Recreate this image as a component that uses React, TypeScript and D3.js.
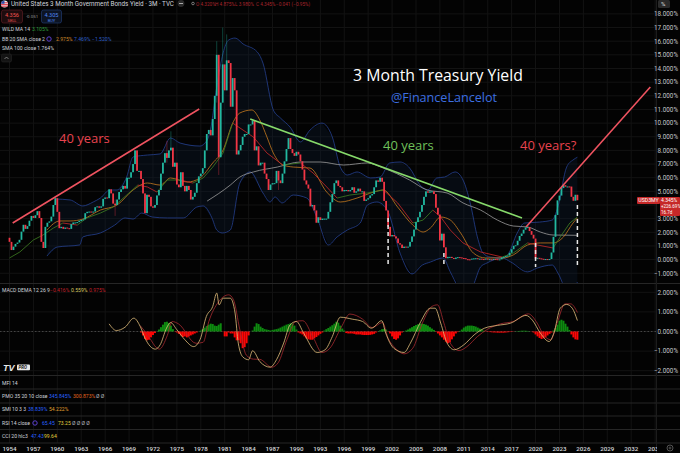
import * as d3 from "d3"

// quarterly closes, first one is 1954 Q1
const closes = [
  1.3, 0.7, 0.95, 1.15, 1.25, 1.45, 2.05, 2.55, 2.25, 2.45, 2.85, 3.2, 3.05, 3.25, 3.55, 3.05,
  1.3, 0.85, 2.4, 2.7, 2.8, 3.15, 4.0, 4.5, 3.5, 2.3, 2.4, 2.25, 2.35, 2.3, 2.25, 2.6,
  2.72, 2.72, 2.75, 2.85, 2.9, 2.95, 3.4, 3.5, 3.52, 3.45, 3.52, 3.84, 3.9, 3.8, 3.9, 4.45,
  4.55, 4.5, 5.15, 4.85, 4.1, 4.0, 4.4, 4.95, 5.15, 5.4, 5.2, 6.0, 6.0, 6.4, 7.0, 8.0,
  6.5, 6.5, 5.9, 4.85, 3.4, 4.75, 4.6, 3.9, 3.8, 4.0, 4.7, 5.1, 6.3, 7.1, 7.8, 7.45,
  8.0, 8.2, 6.8, 7.1, 5.5, 5.3, 6.4, 5.4, 5.0, 5.4, 5.1, 4.4, 4.6, 4.9, 5.6, 6.1,
  6.3, 6.7, 8.0, 9.2, 9.5, 9.1, 10.3, 12.0, 15.0, 7.5, 11.5, 14.3, 12.4, 14.6, 14.4, 11.2,
  13.3, 12.4, 7.7, 8.0, 8.4, 9.0, 9.2, 9.2, 9.9, 9.9, 10.2, 8.0, 8.3, 6.9, 7.1, 7.1,
  6.3, 5.9, 5.1, 5.5, 5.6, 5.6, 6.5, 5.8, 5.6, 6.3, 7.2, 8.1, 8.9, 8.1, 7.8, 7.6,
  7.9, 7.7, 7.2, 6.6, 5.8, 5.5, 5.2, 3.9, 4.0, 3.6, 2.7, 3.1, 2.9, 3.0, 3.0, 3.0,
  3.5, 4.2, 4.8, 5.6, 5.8, 5.4, 5.3, 5.0, 5.1, 5.1, 5.0, 5.1, 5.3, 4.9, 5.0, 5.2,
  5.0, 5.0, 4.3, 4.4, 4.5, 4.7, 4.8, 5.3, 5.8, 5.7, 6.0, 5.7, 4.3, 3.6, 2.4, 1.7,
  1.8, 1.7, 1.55, 1.2, 1.1, 0.85, 0.95, 0.9, 0.95, 1.3, 1.7, 2.2, 2.75, 3.1, 3.5, 4.0,
  4.6, 5.0, 4.9, 5.0, 5.0, 4.8, 3.8, 3.3, 1.4, 1.9, 0.9, 0.1, 0.2, 0.2, 0.12, 0.05,
  0.15, 0.18, 0.16, 0.12, 0.1, 0.03, 0.02, 0.01, 0.07, 0.09, 0.1, 0.05, 0.07, 0.04, 0.02, 0.07,
  0.03, 0.03, 0.02, 0.04, 0.03, 0.01, 0.02, 0.16, 0.2, 0.26, 0.29, 0.5, 0.76, 1.01, 1.05, 1.38,
  1.73, 1.91, 2.19, 2.36, 2.38, 2.09, 1.82, 1.54, 0.06, 0.13, 0.09, 0.06, 0.02, 0.04, 0.03, 0.04,
  0.52, 1.67, 3.27, 4.34, 4.69, 5.24, 5.45, 5.34, 5.36, 5.35, 4.6, 4.31, 4.75, 4.345,
]
const firstYear = 1954

// candles with a visible wick
const wickYears = [1967.25, 1973.75, 1974.25, 1980, 1980.25, 1980.75, 1981.25, 1987.75]
const wickHighs = [4.4, 8.7, 9.4, 16.0, 15.0, 17.0, 16.5, 6.5]
const wickLows = [3.2, 7.1, 8.0, 11.5, 6.2, 11.5, 12.4, 5.1]

const upperYears = [1959.7, 1961.6, 1963.2, 1964.5, 1965.4, 1966.6, 1967.5, 1968.7, 1969.5, 1971.3, 1972.9, 1974.2, 1975.4, 1977.9, 1978.8, 1979.2, 1980, 1980.8, 1981.5, 1982.3, 1983.3, 1985.1, 1985.8, 1987.1, 1988, 1989.2, 1990.5, 1991.7, 1993.2, 1994.5, 1995.5, 1996.4, 1997.6, 1999.3, 2000.5, 2001.7, 2003, 2004.2, 2005.5, 2006.5, 2007.6, 2008.6, 2009.9, 2010.9, 2011.8, 2012.7, 2013.4, 2014.3, 2015.8, 2016.5, 2017.7, 2018.6, 2020.5, 2022.1, 2022.8, 2023.9, 2024.7, 2025.25]
const upperValues = [4.44, 4.37, 3.93, 4.22, 4.51, 5.1, 5.1, 6.05, 7.52, 7.66, 7.74, 8.91, 8.54, 8.32, 8.76, 9.49, 12.64, 15.14, 16.09, 16.23, 15.8, 15.2, 14.4, 10.96, 10.37, 9.71, 8.62, 9.49, 10.0, 8.98, 6.78, 6.2, 6.42, 5.98, 6.05, 7.08, 7.15, 6.71, 5.47, 5.1, 5.98, 6.05, 6.42, 5.83, 4.15, 1.66, 0.48, 0.19, 0.12, 0.34, 1.95, 2.68, 2.75, 2.9, 3.85, 6.78, 7.3, 7.5]

const lowerYears = [1958.7, 1960, 1962.8, 1963.2, 1965.4, 1967.2, 1968.5, 1969.5, 1970.6, 1971.9, 1973.8, 1975.8, 1977.5, 1978.3, 1979.4, 1980, 1980.7, 1981.7, 1982.9, 1984.2, 1985.8, 1986.7, 1987.3, 1988.2, 1989.6, 1991.3, 1992.6, 1994, 1995.1, 1996.4, 1998, 1998.9, 2000.1, 2001.4, 2003, 2004.5, 2005.8, 2006.8, 2008.4, 2009.3, 2011.2, 2012.2, 2013.1, 2013.9, 2015.8, 2016.9, 2019, 2020.2, 2022.1, 2022.8, 2024.3, 2025.25]
const lowerValues = [0.26, 0.92, 1.07, 1.66, 1.95, 2.53, 3.05, 2.97, 3.41, 3.12, 3.05, 3.05, 3.85, 3.93, 3.05, 2.17, 1.95, 2.17, 5.61, 6.42, 4.88, 4.22, 4.59, 4.15, 4.73, 4.51, 3.05, 1.07, 1.66, 2.17, 2.68, 4.0, 4.22, 3.63, 0.48, -1.05, -0.4, -0.18, 0.12, -0.9, -2.6, -1.85, -0.54, -0.25, 0.12, -0.18, -0.9, -0.62, -0.4, -0.98, -2.6, -1.64]

const basisYears = [1958.7, 1960.3, 1961.6, 1963.2, 1965.4, 1967.5, 1969.5, 1971.3, 1972.9, 1974.2, 1976.3, 1977.9, 1979.5, 1980.8, 1982, 1982.9, 1984.4, 1985.4, 1986.3, 1987.1, 1988.3, 1989.6, 1991.7, 1993.8, 1995.5, 1997.6, 1999.7, 2000.9, 2002.7, 2004.6, 2005.9, 2006.8, 2008.1, 2009.3, 2010.6, 2012.2, 2013.7, 2015.9, 2017.2, 2019, 2020.6, 2022.2, 2023.5, 2024.7, 2025.25]
const basisValues = [2.17, 2.83, 2.83, 2.97, 3.63, 4.0, 5.1, 5.61, 5.46, 5.98, 5.68, 5.98, 7.08, 8.03, 10.0, 10.74, 10.96, 10.23, 8.98, 7.81, 6.93, 6.78, 6.71, 4.95, 4.22, 4.51, 4.95, 5.1, 3.85, 2.53, 2.02, 2.31, 3.12, 2.9, 1.95, 0.48, 0.12, 0.12, 0.34, 1.07, 1.22, 1.22, 1.66, 2.68, 3.05]

const wildYears = [1954, 1955.3, 1957, 1958.2, 1959.5, 1960.7, 1962.5, 1963.7, 1965.4, 1967, 1968.7, 1970.1, 1971.3, 1972.5, 1973.8, 1975.4, 1977, 1978.3, 1979.5, 1980.8, 1982, 1983.3, 1984.6, 1986.3, 1988.3, 1990.5, 1992.1, 1993.8, 1995.1, 1996.7, 1998.9, 2000.9, 2002.7, 2004.6, 2005.9, 2007.1, 2008.1, 2009.3, 2010.9, 2013.1, 2015.8, 2017.2, 2019, 2020.2, 2022.2, 2023.1, 2024.3, 2025.25]
const wildValues = [0.12, 0.56, 1.44, 1.8, 2.31, 2.68, 2.53, 3.05, 3.41, 3.85, 4.73, 5.46, 5.32, 4.95, 5.83, 5.83, 5.61, 5.98, 6.78, 7.81, 10.0, 9.49, 8.98, 7.81, 6.93, 7.08, 6.34, 5.32, 4.51, 4.73, 4.88, 5.1, 4.15, 2.68, 2.9, 3.63, 3.12, 2.17, 1.22, 0.56, 0.19, 0.48, 1.22, 1.07, 0.85, 1.66, 2.68, 3.12]

const smaYears = [1978.8, 1981.7, 1982.9, 1984.6, 1987.6, 1990.5, 1993, 1995.9, 1998.9, 2000.9, 2004.2, 2006.4, 2008.9, 2010.9, 2013.1, 2015.2, 2017.2, 2019, 2020.6, 2022.2, 2025.25]
const smaValues = [4.29, 5.46, 6.05, 6.42, 6.78, 7.15, 7.15, 6.93, 7.08, 6.71, 5.83, 5.1, 4.88, 4.15, 3.63, 2.9, 2.46, 2.39, 2.02, 1.8, 1.78]

const macdYears = [1966.5, 1967.4, 1968.5, 1969.6, 1970.4, 1971, 1972.3, 1972.9, 1973.7, 1974.2, 1975, 1976, 1977.1, 1977.9, 1978.7, 1979.5, 1980, 1980.3, 1980.8, 1981.7, 1982.3, 1982.7, 1983.3, 1984, 1984.5, 1985.4, 1986.7, 1987.5, 1988.4, 1989.2, 1990, 1990.9, 1992.6, 1993.6, 1994.5, 1995.5, 1997, 1998.3, 1999.4, 2000.7, 2001.2, 2002.2, 2003.5, 2004.3, 2005.6, 2006.8, 2007.4, 2008.1, 2008.9, 2009.8, 2011, 2012.3, 2013.6, 2015.2, 2016.9, 2018.8, 2019.6, 2020.6, 2021.7, 2022.3, 2023.1, 2023.9, 2024.6, 2025.25]
const macdValues = [0.39, 0.05, 0.22, 0.68, 0.26, -0.34, -0.9, -0.68, 0.17, 0.46, 0.09, -0.42, -0.77, -0.42, 0.77, 1.28, 1.96, 1.36, 1.7, 1.7, 0.94, -0.59, -1.31, -1.44, -0.98, -1.53, -1.82, -1.44, -0.59, 0.34, 0.51, -0.08, -1.07, -0.93, -0.26, 0.73, 0.63, 0.51, 0.17, 0.55, -0.08, -0.85, -1.07, -0.59, 0.51, 1.19, 1.19, 0.43, -0.59, -0.93, -0.68, -0.17, 0.17, 0.31, 0.43, 0.82, 0.58, -0.08, -0.51, -0.08, 1.19, 1.38, 1.19, 0.56]

const signalYears = [1970.4, 1971.2, 1972.8, 1973.8, 1974.4, 1975.2, 1977.4, 1978.3, 1979, 1980.2, 1981.5, 1982.1, 1982.9, 1983.7, 1984.6, 1985.4, 1986.9, 1987.7, 1988.8, 1989.9, 1990.8, 1992.1, 1993.2, 1994.2, 1995.6, 1996.7, 1998.3, 1999.5, 2000.8, 2001.5, 2002.4, 2003.5, 2004.6, 2005.8, 2007, 2007.7, 2008.5, 2009.3, 2010.4, 2011.4, 2012.7, 2014, 2015.6, 2017.2, 2019.1, 2020.2, 2021, 2021.9, 2022.7, 2023.7, 2024.4, 2025.25]
const signalValues = [0.3, -0.1, -0.9, -0.2, 0.51, 0.39, -0.6, -0.55, 0.5, 1.5, 1.87, 1.62, 0.09, -1.2, -1.41, -1.42, -1.82, -1.6, -0.42, 0.51, 0.55, -0.3, -1.07, -0.85, 0.2, 0.89, 0.63, 0.2, 0.46, -0.34, -0.85, -1.14, -0.85, 0.43, 1.28, 1.36, 0.43, -0.59, -0.97, -0.77, -0.26, 0.12, 0.39, 0.51, 0.9, 0.43, -0.17, -0.42, 0.43, 1.41, 1.41, 0.97]

// MACD histogram, one bar a quarter, last one is 2025 Q2
const histValues = [
  -0.05, -0.2, -0.38, -0.45, -0.42, -0.3, -0.18, -0.08, 0.01, 0.1, 0.22, 0.35, 0.48, 0.5, 0.42, 0.3, 0.12, -0.01,
  -0.05, -0.12, -0.2, -0.28, -0.25, -0.3, -0.25, -0.2, -0.15, -0.1, -0.05, 0.01, 0.05, 0.12, 0.2, 0.28, 0.35,
  0.4, 0.38, 0.3, 0.28, 0.35, 0.42, -0.01, -0.25, -0.25, -0.05, -0.1, -0.1, -0.3, -0.45, -0.45, -0.6,
  -0.85, -0.8, -0.6, -0.2, 0, 0.05, 0.25, 0.42, 0.38, 0.25, 0.18, 0.12, 0.1, 0.08, 0.05, 0.08,
  0.1, 0.12, 0.15, 0.2, 0.25, 0.3, 0.35, 0.38, 0.42, 0.4, 0.3, 0.1, -0.05, -0.1, -0.15, -0.25,
  -0.35, -0.4, -0.42, -0.42, -0.35, -0.28, -0.2, -0.12, -0.05, 0.05, 0.12, 0.18, 0.25, 0.32, 0.4, 0.5,
  0.45, 0.3, 0.15, 0.05, -0.08, -0.1, -0.1, -0.1, -0.12, -0.15, -0.15, -0.15, -0.17, -0.18, -0.18, -0.18,
  -0.17, -0.15, -0.12, -0.05, 0.01, 0.06, 0.12, 0.13, 0.1, -0.01, -0.1, -0.25, -0.38, -0.42, -0.35, -0.2,
  -0.05, 0.01, 0.05, 0.1, 0.16, 0.22, 0.28, 0.33, 0.37, 0.4, 0.4, 0.38, 0.35, 0.3, 0.22, 0.15,
  0.08, -0.02, -0.1, -0.2, -0.3, -0.42, -0.52, -0.6, -0.55, -0.4, -0.25, -0.1, -0.03, 0.03, 0.1, 0.2, 0.26,
  0.3, 0.3, 0.3, 0.28, 0.25, 0.2, 0.15, 0.1, 0.04, -0.01, -0.02, -0.03, -0.04, -0.05, -0.05, -0.06, -0.06,
  -0.06, -0.06, -0.05, -0.04, -0.03, -0.02, -0.01, 0.01, 0.02, 0.03, 0.04, 0.04, 0.04, 0.03, 0.01, -0.01,
  -0.05, -0.15, -0.25, -0.33, -0.38, -0.35, -0.3, -0.2, -0.12, -0.05, 0.05, 0.18, 0.35, 0.55, 0.6, 0.55,
  0.4, 0.25, 0.08, -0.15, -0.3, -0.4, -0.42,
]

// drawn on the chart by hand: [year, yield] at both ends
const redTrend = [[1954.4, 2.68], [1977.8, 11.03]]
const greenTrend = [[1984.2, 10.3], [2018.3, 3.05]]
const redTrend2 = [[2018.8, 2.39], [2034.4, 12.64]]
const dropYears = [2001.5, 2008.5, 2020, 2025.25]
const dropTops = [3.05, 0.48, 1.22, 4.0]
const dropBottom = -0.55

// 4% sits behind the last price tag
const priceTicks = d3.range(-1, 19)
const priceLabels = priceTicks.filter((t) => t !== 4)
const macdTicks = [-2, -1, 0, 1, 2]
const yearTicks = d3.range(1954, 2036, 3)

const paneLabels = ["MFI 14", "PMO 35 20 10 close", "SMI 10 3 3", "RSI 14 close", "CCI 20 hlc3"]
const paneValues = [
  [],
  ["345.845%", "300.873%", "Ø Ø"],
  ["38.839%", "54.222%"],
  ["65.45", "73.25", "Ø Ø Ø Ø"],
  ["47.43", "99.64"],
]
const paneColours = [
  [],
  ["#2962ff", "#e0651f", "#b2b5be"],
  ["#2962ff", "#e0a030"],
  ["#2962ff", "#e0d040", "#b2b5be"],
  ["#2962ff", "#e0d040"],
]
const paneValueX = [[], [49, 73, 96], [28, 49], [42, 58, 72], [31, 44]]
const paneBaselines = [385, 398, 411, 425, 438]

const W = 680
const H = 453
const FONT = "Roboto, 'Noto Sans', sans-serif"
const TEAL = "#22b8a0"
const RED = "#f23645"
const LEGEND = 5.1

const x = d3.scaleLinear().domain([1954, 2005]).range([9.5, 416])
const y = d3.scaleLinear().domain([0, 18]).range([259.6, 13.9])
const my = d3.scaleLinear().domain([-2, 2]).range([370.7, 292.3])

const curve = (xs: number[], vs: number[], ys = y) =>
  d3
    .line<number>()
    .x((d) => x(d))
    .y((_, i) => ys(vs[i]))
    .curve(d3.curveMonotoneX)(xs) || ""

const rawLine = d3.line().x((d) => x(d[0])).y((d) => y(d[1]))

export default function App() {
  const band =
    rawLine([
      ...upperYears.map((t, i) => [t, upperValues[i]] as [number, number]),
      ...lowerYears.map((t, i) => [t, lowerValues[i]] as [number, number]).reverse(),
    ]) + "Z"

  const histStart = 2025.25 - (histValues.length - 1) / 4

  return (
    <svg
      width={W}
      height={H}
      style={{ position: "absolute", left: 0, top: 0, background: "#030303", fontFamily: FONT }}
    >
      <defs>
        <clipPath id="pane">
          <rect x={0} y={0} width={656} height={283} />
        </clipPath>
        <clipPath id="timeClip">
          <rect x={0} y={440} width={657} height={13} />
        </clipPath>
      </defs>

      {/* grid */}
      {yearTicks.map((t) => (
        <line key={t} x1={x(t)} x2={x(t)} y1={0} y2={443} stroke="#131313" />
      ))}
      {priceTicks.map((t) => (
        <line key={t} x1={0} x2={656} y1={y(t)} y2={y(t)} stroke="#131313" />
      ))}
      {macdTicks.map((t) => (
        <line key={t} x1={0} x2={656} y1={my(t)} y2={my(t)} stroke="#131313" />
      ))}
      <line x1={0} x2={656} y1={my(0)} y2={my(0)} stroke="#444" strokeDasharray="1.5 2" />

      {/* pane borders */}
      {[283.5, 375.5, 389, 403, 416, 429.5, 443].map((p) => (
        <line key={p} x1={0} x2={W} y1={p} y2={p} stroke="#262626" />
      ))}
      <line x1={656.5} x2={656.5} y1={0} y2={H} stroke="#1c1c1c" />

      {/* price pane */}
      <g clipPath="url(#pane)">
        <path d={band} fill="#0f2238" fillOpacity={0.28} />
        <path d={curve(upperYears, upperValues)} fill="none" stroke="#24408f" strokeWidth={0.8} />
        <path d={curve(lowerYears, lowerValues)} fill="none" stroke="#24408f" strokeWidth={0.8} />
        <path d={curve(smaYears, smaValues)} fill="none" stroke="#9c9c9c" strokeWidth={0.8} />
        <path d={curve(basisYears, basisValues)} fill="none" stroke="#c77a1e" strokeWidth={0.8} />
        {wildYears.slice(1).map((t, i) => (
          <line
            key={t}
            x1={x(wildYears[i])}
            x2={x(t)}
            y1={y(wildValues[i])}
            y2={y(wildValues[i + 1])}
            stroke={wildValues[i + 1] >= wildValues[i] ? "#3f7f22" : "#cc2a2a"}
            strokeWidth={0.8}
          />
        ))}

        {closes.map((c, i) => {
          const t = firstYear + i / 4
          const open = i === 0 ? 1.6 : closes[i - 1]
          const colour = c >= open ? TEAL : RED
          const k = wickYears.indexOf(t)
          return (
            <g key={i}>
              {k >= 0 && (
                <line
                  x1={x(t)}
                  x2={x(t)}
                  y1={y(wickHighs[k])}
                  y2={y(wickLows[k])}
                  stroke={colour}
                  strokeOpacity={0.6}
                  strokeWidth={0.6}
                />
              )}
              <rect
                x={x(t) - 0.9}
                width={1.8}
                y={y(Math.max(open, c))}
                height={Math.max(Math.abs(y(open) - y(c)), 1)}
                fill={colour}
              />
            </g>
          )
        })}

        {/* hand drawn lines */}
        <path d={rawLine(redTrend as [number, number][]) || ""} stroke="#ef5360" strokeWidth={1.6} fill="none" />
        <path d={rawLine(greenTrend as [number, number][]) || ""} stroke="#86d96a" strokeWidth={1.6} fill="none" />
        <path d={rawLine(redTrend2 as [number, number][]) || ""} stroke="#ef5360" strokeWidth={1.6} fill="none" />
        {dropYears.map((t, i) => (
          <line
            key={t}
            x1={x(t)}
            x2={x(t)}
            y1={y(dropTops[i])}
            y2={y(dropBottom)}
            stroke="#e8e8e8"
            strokeWidth={1.5}
            strokeDasharray="4 3"
          />
        ))}
      </g>

      {/* MACD pane */}
      {histValues.map((v, i) => {
        const t = histStart + i / 4
        return (
          <rect
            key={i}
            x={x(t) - 1}
            width={2}
            y={my(Math.max(v, 0))}
            height={Math.abs(my(v) - my(0))}
            fill={v >= 0 ? "#0e8a10" : "#fb0606"}
          />
        )
      })}
      <path d={curve(signalYears, signalValues, my)} fill="none" stroke="#a62a30" strokeWidth={0.8} />
      <path d={curve(macdYears, macdValues, my)} fill="none" stroke="#e3bf7c" strokeWidth={0.8} />

      {/* annotation text */}
      <text x={438} y={81} fontFamily="'Open Sans'" fontSize={15.8} fontWeight={500} fill="#fff" textAnchor="middle">
        3 Month Treasury Yield
      </text>
      <text x={444} y={102} fontFamily="'Open Sans'" fontSize={12.6} fill="#3d6fe0" textAnchor="middle">
        @FinanceLancelot
      </text>
      <text x={59} y={143} fontFamily="'Open Sans'" fontSize={13} fill="#e8434f">
        40 years
      </text>
      <text x={383} y={150} fontFamily="'Open Sans'" fontSize={13} fill="#6fc05a">
        40 years
      </text>
      <text x={520} y={150} fontFamily="'Open Sans'" fontSize={13} fill="#e8434f">
        40 years?
      </text>

      {/* price axis */}
      {priceLabels.map((t) => (
        <text key={t} x={678} y={y(t) + 2.3} fontSize={6.3} fill="#c4c6cc" textAnchor="end">
          {t < 0 ? `−${Math.abs(t).toFixed(3)}%` : `${t.toFixed(3)}%`}
        </text>
      ))}
      {macdTicks.map((t) => (
        <text key={t} x={678} y={my(t) + 2.3} fontSize={6.3} fill="#c4c6cc" textAnchor="end">
          {t < 0 ? `−${Math.abs(t).toFixed(3)}%` : `${t.toFixed(3)}%`}
        </text>
      ))}
      <rect x={637} y={197} width={23} height={7} fill="#c62828" rx={1} />
      <text x={648.5} y={202.4} fontSize={5.2} fill="#fff" textAnchor="middle">
        USD3MY
      </text>
      <rect x={660} y={197} width={20} height={19} fill="#c62828" rx={1} />
      <text x={661} y={202.2} fontSize={5} fill="#fff">
        4.345%
      </text>
      <text x={661} y={208} fontSize={4.5} fill="#fff">
        +226.69%
      </text>
      <text x={661} y={213.8} fontSize={4.5} fill="#fff">
        16.7d
      </text>
      <rect x={658} y={0} width={12} height={8} rx={1.5} fill="#2a2a2a" />
      <text x={661} y={6} fontSize={6} fill="#ddd">
        %
      </text>

      {/* time axis */}
      <g clipPath="url(#timeClip)">
        {yearTicks.map((t) => (
          <text key={t} x={x(t)} y={450.5} fontSize={6.2} fontWeight={500} fill="#d6d8dd" textAnchor="middle">
            {t}
          </text>
        ))}
      </g>
      <circle cx={670} cy={448} r={3} fill="none" stroke="#888" strokeWidth={0.6} />
      <circle cx={670} cy={448} r={1} fill="none" stroke="#888" strokeWidth={0.5} />

      {/* header */}
      <circle cx={4.5} cy={4} r={3.6} fill="#eee" />
      <path d="M1 2.8h7M1 4.6h7M1.3 6.2h6.4" stroke="#d23" strokeWidth={0.9} />
      <path d="M4.5 0.4a3.6 3.6 0 0 0 -3.5 3.4h3.5z" fill="#2b4fa8" />
      <text x={11} y={6} fontSize={6.3} fill="#d1d4dc">
        United States 3 Month Government Bonds Yield · 3M · TVC
      </text>
      <circle cx={181} cy={3.5} r={3.4} fill="#2a2a2a" />
      <path d="M179 3.5h4" stroke="#ccc" strokeWidth={0.8} />
      <circle cx={193} cy={3.5} r={1.3} fill="none" stroke="#bbb" strokeWidth={0.6} />
      <text x={196} y={5.6} fontSize={4.7} fill="#a8242c">
        O 4.320%
      </text>
      <text x={215} y={5.6} fontSize={4.7} fill="#a8242c">
        H 4.875%
      </text>
      <text x={235} y={5.6} fontSize={4.7} fill="#a8242c">
        L 3.980%
      </text>
      <text x={256} y={5.6} fontSize={4.7} fill="#a8242c">
        C 4.345%
      </text>
      <text x={276} y={5.6} fontSize={4.7} fill="#a8242c">
        −0.041 (−0.95%)
      </text>

      <rect x={1.5} y={10} width={21} height={13} rx={2} fill="#1e0c0e" stroke="#5a1d22" strokeWidth={0.7} />
      <text x={12} y={16.5} fontSize={5.6} fill="#ef5350" textAnchor="middle">
        4.356
      </text>
      <text x={12} y={21.5} fontSize={4} fill="#ef5350" textAnchor="middle">
        SELL
      </text>
      <text x={32} y={18} fontSize={4.4} fill="#9a9a9a" textAnchor="middle">
        -0.051
      </text>
      <rect x={41.5} y={10} width={20} height={13} rx={2} fill="#0c1424" stroke="#1f3a6e" strokeWidth={0.7} />
      <text x={51.5} y={16.5} fontSize={5.6} fill="#4f84f0" textAnchor="middle">
        4.305
      </text>
      <text x={51.5} y={21.5} fontSize={4} fill="#4f84f0" textAnchor="middle">
        BUY
      </text>

      <text x={2} y={31} fontSize={LEGEND} fill="#d1d4dc">
        WILD MA 14
      </text>
      <text x={32} y={31} fontSize={LEGEND} fill="#2e9e3a">
        3.105%
      </text>
      <text x={2} y={41} fontSize={LEGEND} fill="#d1d4dc">
        BB 20 SMA close 2
      </text>
      <circle cx={49} cy={39} r={2.2} fill="none" stroke="#5b3fd0" strokeWidth={1} />
      <text x={56} y={41} fontSize={LEGEND} fill="#d08a2a">
        2.975%
      </text>
      <text x={74} y={41} fontSize={LEGEND} fill="#2d5fc8">
        7.469%
      </text>
      <text x={92} y={41} fontSize={LEGEND} fill="#2d5fc8">
        −1.520%
      </text>
      <text x={2} y={50} fontSize={LEGEND} fill="#d1d4dc">
        SMA 100 close 1.764%
      </text>
      <rect x={1.5} y={54} width={10} height={8} rx={1.5} fill="#141414" stroke="#2a2a2a" strokeWidth={0.5} />
      <path d="M4.5 59l2-2 2 2" fill="none" stroke="#bbb" strokeWidth={0.6} />

      <text x={2} y={292} fontSize={LEGEND} fill="#d1d4dc">
        MACD DEMA 12 26 9
      </text>
      <text x={50} y={292} fontSize={LEGEND} fill="#c1212b">
        −0.416%
      </text>
      <text x={71} y={292} fontSize={LEGEND} fill="#d9c860">
        0.559%
      </text>
      <text x={89} y={292} fontSize={LEGEND} fill="#c1212b">
        0.975%
      </text>

      {/* TV logo */}
      <text x={3} y={370.5} fontFamily="'Liberation Sans'" fontSize={9} fontWeight={700} fontStyle="italic" fill="#e8e8e8">
        TV
      </text>
      <rect x={17} y={364.5} width={13} height={5.8} rx={1} fill="#e8e8e8" />
      <text x={18.5} y={369.2} fontSize={4.4} fontWeight={700} fontStyle="italic" fill="#111">
        PRO
      </text>

      {/* collapsed panes */}
      {paneLabels.map((label, i) => (
        <g key={label}>
          <text x={2} y={paneBaselines[i]} fontSize={LEGEND} fill="#d1d4dc">
            {label}
          </text>
          {label.startsWith("RSI") && (
            <circle cx={35} cy={paneBaselines[i] - 2} r={2.2} fill="none" stroke="#5b3fd0" strokeWidth={1} />
          )}
          {paneValues[i].map((txt, j) => (
            <text key={txt} x={paneValueX[i][j]} y={paneBaselines[i]} fontSize={LEGEND} fill={paneColours[i][j]}>
              {txt}
            </text>
          ))}
        </g>
      ))}
    </svg>
  )
}
